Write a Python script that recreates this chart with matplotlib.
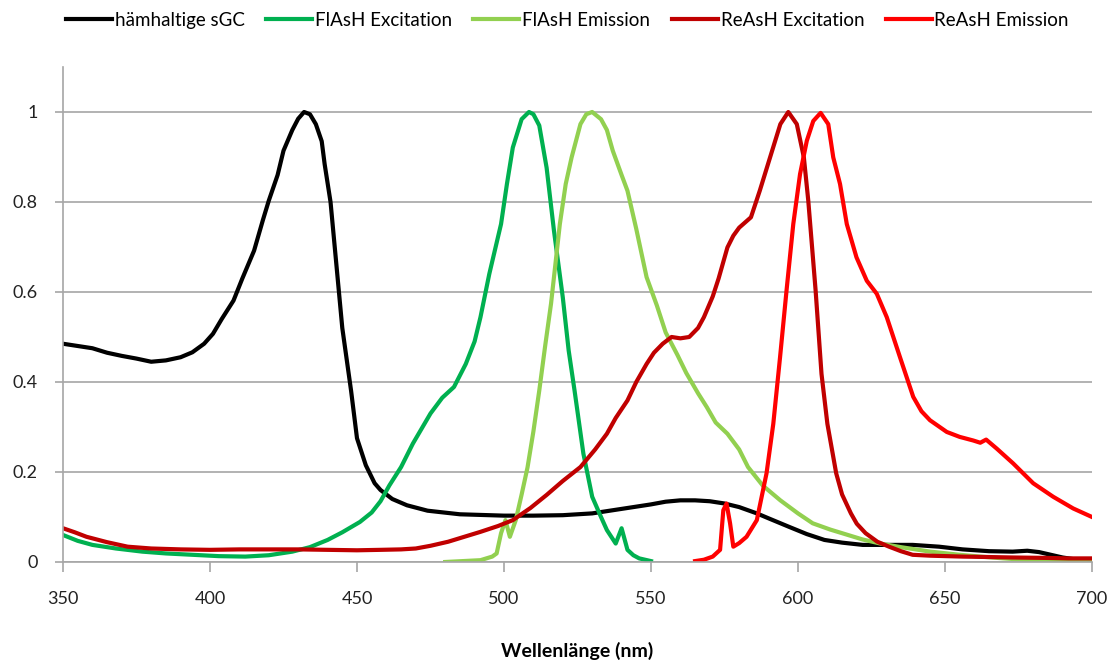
import matplotlib
matplotlib.use("Agg")
import matplotlib.pyplot as plt

plt.rcParams['font.family'] = ['Lato', 'DejaVu Sans']

# hämhaltige sGC
sgc_x = [350, 355, 360, 365, 370, 375, 380, 385, 390, 394, 398, 401, 404, 408, 411, 415,
         418, 420, 423, 425, 428, 430, 432, 434, 436, 438, 439, 441, 443, 445, 448, 450,
         453, 456, 458, 462, 467, 474, 485, 500, 510, 520, 530, 540, 550, 555, 560, 565,
         570, 575, 580, 586, 590, 597, 603, 609, 615, 622, 630, 639, 648, 656, 665, 673,
         678, 682, 686, 690, 695, 700]
sgc_y = [0.485, 0.48, 0.475, 0.465, 0.458, 0.452, 0.445, 0.448, 0.455, 0.466, 0.485, 0.507, 0.54, 0.581, 0.63, 0.692,
         0.76, 0.803, 0.86, 0.914, 0.96, 0.985, 1.0, 0.995, 0.973, 0.935, 0.884, 0.80, 0.66, 0.52, 0.38, 0.275,
         0.215, 0.175, 0.16, 0.14, 0.126, 0.114, 0.106, 0.103, 0.103, 0.104, 0.108, 0.118, 0.128, 0.134, 0.137, 0.137,
         0.135, 0.13, 0.122, 0.108, 0.097, 0.078, 0.062, 0.049, 0.043, 0.038, 0.038, 0.038, 0.034, 0.028, 0.024, 0.023,
         0.025, 0.022, 0.016, 0.01, 0.005, 0.0]

# FlAsH Excitation
fex_x = [350, 355, 360, 368, 377, 385, 394, 403, 412, 420, 428, 434, 440, 445, 451, 455, 458, 461, 465,
         469, 475, 479, 483, 487, 490, 492, 495, 499, 501, 503, 506, 508.5, 510, 512, 514.5, 517, 520,
         522, 524, 527, 530, 533, 535, 538, 540, 542, 544, 546, 550]
fex_y = [0.06, 0.047, 0.038, 0.03, 0.023, 0.019, 0.016, 0.013, 0.012, 0.015, 0.023, 0.033, 0.049, 0.066, 0.089, 0.11, 0.135, 0.17, 0.211,
         0.263, 0.33, 0.365, 0.389, 0.44, 0.49, 0.544, 0.64, 0.751, 0.84, 0.921, 0.984, 1.0, 0.995, 0.97, 0.876, 0.736, 0.588,
         0.47, 0.381, 0.241, 0.145, 0.1, 0.071, 0.041, 0.075, 0.027, 0.015, 0.008, 0.002]

# FlAsH Emission
fem_x = [480, 486, 492, 496, 497.5, 499, 500.5, 502, 504, 506, 508, 510, 512, 514, 516, 519, 521, 523,
         526, 528, 530, 533, 535, 537, 540, 542, 545, 548.5, 552, 555, 559, 562, 566, 569, 572, 576,
         580, 583, 588, 594, 600, 605, 611, 617, 622, 628, 635, 645, 655, 662, 670, 679, 690, 700]
fem_y = [0.0, 0.002, 0.004, 0.012, 0.019, 0.064, 0.093, 0.056, 0.093, 0.15, 0.21, 0.29, 0.381, 0.48, 0.574, 0.751, 0.84, 0.899,
         0.973, 0.995, 1.0, 0.984, 0.96, 0.914, 0.86, 0.825, 0.74, 0.633, 0.57, 0.51, 0.46, 0.42, 0.375, 0.344, 0.31, 0.285,
         0.25, 0.211, 0.17, 0.137, 0.108, 0.086, 0.072, 0.06, 0.05, 0.041, 0.033, 0.023, 0.016, 0.012, 0.008, 0.004, 0.003, 0.005]

# ReAsH Excitation
rex_x = [350, 354, 358, 365, 372, 380, 390, 400, 410, 420, 430, 440, 450, 458, 465, 470, 475, 481,
         486, 492, 498, 503, 509, 514.5, 520, 526, 531, 535, 538, 542, 545, 548.5, 551, 554, 557, 560, 563,
         566, 568, 571, 573, 576, 578, 580, 584, 587, 590.5, 594, 596.7, 599.6, 602, 603.5, 606, 608, 610,
         613, 615, 618, 620, 623, 627, 631, 635, 639, 645, 656, 665, 673, 685, 692, 700]
rex_y = [0.075, 0.066, 0.056, 0.044, 0.034, 0.03, 0.028, 0.027, 0.028, 0.028, 0.028, 0.027, 0.026, 0.027, 0.028, 0.03, 0.036, 0.045,
         0.055, 0.067, 0.08, 0.093, 0.12, 0.149, 0.18, 0.211, 0.25, 0.285, 0.32, 0.359, 0.4, 0.44, 0.465, 0.485, 0.5, 0.497, 0.5,
         0.52, 0.544, 0.59, 0.63, 0.699, 0.725, 0.743, 0.766, 0.825, 0.899, 0.973, 1.0, 0.973, 0.899, 0.803, 0.603, 0.418, 0.307,
         0.197, 0.15, 0.108, 0.085, 0.064, 0.045, 0.034, 0.024, 0.016, 0.014, 0.012, 0.011, 0.01, 0.009, 0.008, 0.008]

# ReAsH Emission
rem_x = [565, 568, 571, 573.5, 574.6, 575.7, 576.9, 578, 580, 582.5, 586, 589.3, 591.6, 593.9, 596.1, 598.4,
         600.7, 603, 605.2, 607.7, 610.3, 612, 614.3, 616.6, 619.9, 623.4, 626.8, 630.2, 634.7, 639.2, 642, 644.9,
         650.6, 655, 659.6, 662, 664, 667.6, 673.2, 680, 686.8, 693.6, 700]
rem_y = [0.002, 0.005, 0.012, 0.027, 0.115, 0.13, 0.086, 0.034, 0.042, 0.056, 0.093, 0.197, 0.307, 0.455, 0.603, 0.751,
         0.862, 0.936, 0.98, 0.998, 0.973, 0.899, 0.84, 0.751, 0.677, 0.625, 0.596, 0.544, 0.455, 0.367, 0.335, 0.315,
         0.289, 0.278, 0.27, 0.265, 0.272, 0.252, 0.219, 0.175, 0.145, 0.119, 0.1]

labels = ["hämhaltige sGC", "FlAsH Excitation", "FlAsH Emission", "ReAsH Excitation", "ReAsH Emission"]
colors = ["#000000", "#00B050", "#92D050", "#C00000", "#FF0000"]

fig = plt.figure(figsize=(11.17, 6.6), dpi=100)
ax = fig.add_axes([0.0564, 0.1485, 0.9212, 0.75])

series = [(sgc_x, sgc_y), (fex_x, fex_y), (fem_x, fem_y), (rex_x, rex_y), (rem_x, rem_y)]
for (xs, ys), lab, col in zip(series, labels, colors):
    ax.plot(xs, ys, color=col, linewidth=3.0, label=lab, solid_joinstyle='round')

ax.set_xlim(350, 700)
ax.set_ylim(0, 1.1)
ax.set_xticks([350, 400, 450, 500, 550, 600, 650, 700])
ax.set_yticks([0, 0.2, 0.4, 0.6, 0.8, 1.0])
ax.set_yticklabels(["0", "0.2", "0.4", "0.6", "0.8", "1"])
ax.yaxis.grid(True, color="#A6A6A6", linewidth=1.2)
ax.set_axisbelow(True)
for s in ["top", "right"]:
    ax.spines[s].set_visible(False)
for s in ["left", "bottom"]:
    ax.spines[s].set_color("#A6A6A6")
    ax.spines[s].set_linewidth(1.2)
ax.tick_params(axis='x', direction='out', length=7, width=1.2, color="#A6A6A6",
               labelsize=13, pad=14, labelcolor="#222222")
ax.tick_params(axis='y', direction='out', length=6, width=1.2, color="#A6A6A6",
               labelsize=13, pad=12, labelcolor="#222222")

ax.set_xlabel("Wellenlänge (nm)", fontsize=14, fontweight='bold', labelpad=25)

fig.legend(loc='upper center', bbox_to_anchor=(0.508, 1.008), ncol=5, frameon=False,
           fontsize=13.5, handlelength=2.45, handletextpad=0.15, columnspacing=1.15)

fig.savefig("out.png", dpi=100)
